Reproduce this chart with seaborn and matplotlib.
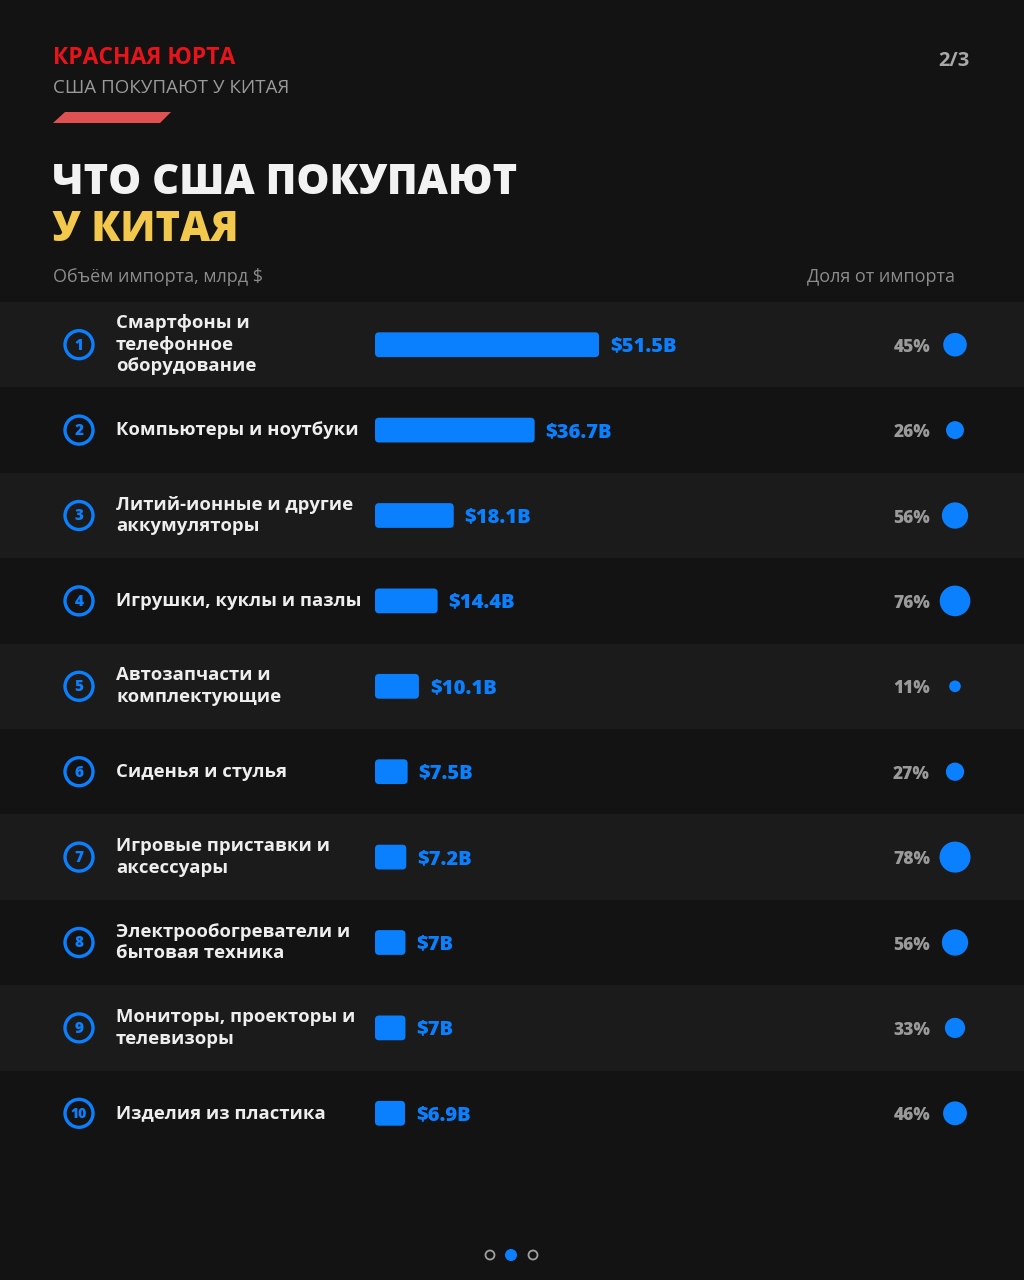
import numpy as np
import pandas as pd
import matplotlib
matplotlib.use("Agg")
import matplotlib.pyplot as plt
import seaborn as sns
from matplotlib.patches import FancyBboxPatch, Polygon

categories = [
    "Смартфоны и\nтелефонное\nоборудование",
    "Компьютеры и ноутбуки",
    "Литий-ионные и другие\nаккумуляторы",
    "Игрушки, куклы и пазлы",
    "Автозапчасти и\nкомплектующие",
    "Сиденья и стулья",
    "Игровые приставки и\nаксессуары",
    "Электрообогреватели и\nбытовая техника",
    "Мониторы, проекторы и\nтелевизоры",
    "Изделия из пластика",
]
import_bn = [51.5, 36.7, 18.1, 14.4, 10.1, 7.5, 7.2, 7.0, 7.0, 6.9]
value_labels = ["$51.5B", "$36.7B", "$18.1B", "$14.4B", "$10.1B",
                "$7.5B", "$7.2B", "$7B", "$7B", "$6.9B"]
share_pct = [45, 26, 56, 76, 11, 27, 78, 56, 33, 46]

df = pd.DataFrame({"cat": categories, "value": import_bn, "share": share_pct})
df["rank"] = np.arange(len(df))
df["col"] = 0

BG = "#131313"
ROW = "#1b1b1b"
BLUE = "#0a80ff"
GRAY = "#8c8c8c"
WHITE = "#eeeeee"

sns.set_theme(style="white")
plt.rcParams["font.family"] = ["Open Sans", "DejaVu Sans"]

W, H = 1024, 1280
fig = plt.figure(figsize=(W / 100, H / 100), dpi=100, facecolor=BG)


def fx(x):
    return x / W


def fy(y):
    return 1 - y / H


top, bottom = 302, 1156
n = len(df)
row_px = (bottom - top) / n

# row bands + labels
bg = fig.add_axes([0, fy(bottom), 1, (bottom - top) / H])
bg.set_xlim(0, W)
bg.set_ylim(n - 0.5, -0.5)
bg.axis("off")
for i in range(n):
    if i % 2 == 0:
        bg.axhspan(i - 0.5, i + 0.5, color=ROW, lw=0, zorder=0)
for i, row in df.iterrows():
    bg.text(116, i, row["cat"], color=WHITE, fontsize=13.3, fontweight="bold",
            va="center", ha="left", linespacing=1.27)
    bg.text(930, i + 0.03, f"{row['share']}%", color="#9a9a9a", fontsize=12.5,
            fontweight="heavy", va="center", ha="right")

# numbered circles
num = fig.add_axes([fx(79 - 30), fy(bottom), fx(60), (bottom - top) / H])
num.set_xlim(-1, 1)
num.set_ylim(n - 0.5, -0.5)
num.axis("off")
num.scatter(df["col"], df["rank"], s=(28 * 0.72) ** 2, facecolor="none",
            edgecolor=BLUE, linewidth=2.4)
for i in range(n):
    num.text(0, i + 0.01, str(i + 1), color=BLUE, fontsize=11 if i < 9 else 10,
             fontweight="heavy", ha="center", va="center")

# bars
bar_left, bar_w = 375, 600
px_per_bn = 4.35
ax = fig.add_axes([fx(bar_left), fy(bottom), fx(bar_w), (bottom - top) / H])
ax.patch.set_alpha(0)
sns.barplot(data=df, x="value", y="cat", orient="h", color=BLUE, width=0.29,
            saturation=1, ax=ax)
ax.set_xlim(0, bar_w / px_per_bn)
ax.set_ylim(n - 0.5, -0.5)
ax.axis("off")
xu = 4 / px_per_bn
yu = 4 / row_px
for p in list(ax.patches):
    x0, y0, w, h = p.get_x(), p.get_y(), p.get_width(), p.get_height()
    p.remove()
    ax.add_patch(FancyBboxPatch((x0, y0), w, h,
                                boxstyle=f"round,pad=0,rounding_size={xu}",
                                mutation_aspect=yu / xu, facecolor=BLUE,
                                edgecolor="none"))
    ax.text(x0 + w + 11 / px_per_bn, y0 + h / 2 + 0.02,
            value_labels[int(round(y0 + h / 2))],
            color=BLUE, fontsize=14.5, fontweight="heavy", ha="left", va="center")

# share circles
sc = fig.add_axes([fx(955 - 40), fy(bottom), fx(80), (bottom - top) / H])
sc.patch.set_alpha(0)
sns.scatterplot(data=df, x="col", y="rank", size="share",
                sizes=(6.4 * min(share_pct), 6.4 * max(share_pct)),
                color=BLUE, edgecolor="none", legend=False, ax=sc)
sc.set_xlim(-1, 1)
sc.set_ylim(n - 0.5, -0.5)
sc.axis("off")

# header
fig.text(fx(53), fy(58), "КРАСНАЯ ЮРТА", color="#e8141b", fontsize=16.5,
         fontweight="bold", va="center")
fig.text(fx(53), fy(88), "США ПОКУПАЮТ У КИТАЯ", color="#9a9a9a", fontsize=13.5,
         va="center")
fig.text(fx(970), fy(61), "2/3", color="#a8a8a8", fontsize=14.5, fontweight="bold",
         ha="right", va="center")
fig.patches.append(Polygon([(fx(53), fy(123)), (fx(65), fy(112)), (fx(171), fy(112)),
                            (fx(160), fy(123))], closed=True, transform=fig.transFigure,
                           facecolor="#e25151", edgecolor="none"))
fig.text(fx(52), fy(183), "ЧТО США ПОКУПАЮТ", color="#f2f2f2", fontsize=30,
         fontweight="heavy", va="center")
fig.text(fx(52), fy(230), "У КИТАЯ", color="#f2c94c", fontsize=30,
         fontweight="heavy", va="center")
fig.text(fx(53), fy(277), "Объём импорта, млрд $", color=GRAY, fontsize=13,
         va="center")
fig.text(fx(955), fy(277), "Доля от импорта", color=GRAY, fontsize=13,
         va="center", ha="right")

# page dots
dots = fig.add_axes([fx(470), fy(1270), fx(84), 30 / H])
dots.set_xlim(0, 84)
dots.set_ylim(0, 30)
dots.axis("off")
dots.scatter([20, 63], [15, 15], s=(9 * 0.72) ** 2, facecolor="none",
             edgecolor="#a0a0a0", linewidth=1.3)
dots.scatter([41], [15], s=(12 * 0.72) ** 2, color=BLUE, edgecolor="none")

fig.savefig("out.png", dpi=100, facecolor=BG)
